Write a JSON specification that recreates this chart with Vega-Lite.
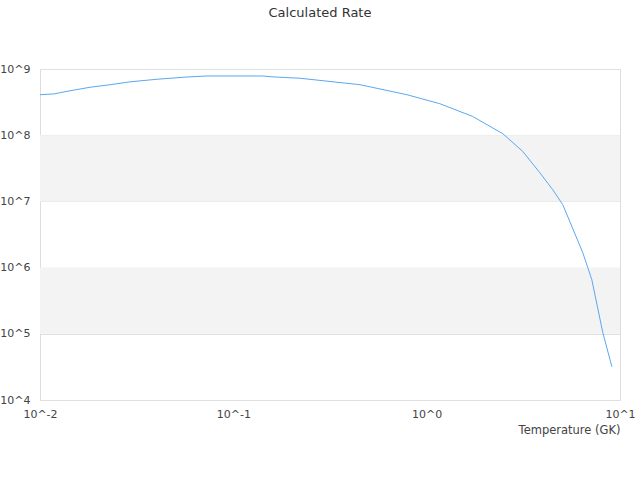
{
  "$schema": "https://vega.github.io/schema/vega-lite/v6.json",
  "width": 580,
  "height": 331,
  "autosize": "none",
  "padding": {"left": 40, "top": 69, "right": 20, "bottom": 80},
  "background": "white",
  "title": {
    "text": "Calculated Rate",
    "anchor": "middle",
    "dx": -10,
    "offset": 43,
    "font": "DejaVu Sans",
    "fontSize": 13,
    "fontWeight": "normal",
    "color": "#333"
  },
  "config": {
    "view": {"stroke": "#ddd", "strokeWidth": 1},
    "axis": {"labelFont": "DejaVu Sans", "titleFont": "DejaVu Sans", "labelColor": "#444", "titleColor": "#444"}
  },
  "datasets": {
    "bands": [
      {"lo": 100000, "hi": 1000000},
      {"lo": 10000000, "hi": 100000000}
    ],
    "rate": [
      {"T": 0.01, "R": 4.09e8},
      {"T": 0.0118, "R": 4.2e8},
      {"T": 0.0138, "R": 4.6e8},
      {"T": 0.01815, "R": 5.3e8},
      {"T": 0.023, "R": 5.78e8},
      {"T": 0.0292, "R": 6.4e8},
      {"T": 0.0403, "R": 7.0e8},
      {"T": 0.0575, "R": 7.57e8},
      {"T": 0.073, "R": 7.84e8},
      {"T": 0.142, "R": 7.84e8},
      {"T": 0.16, "R": 7.6e8},
      {"T": 0.221, "R": 7.25e8},
      {"T": 0.452, "R": 5.79e8},
      {"T": 0.791, "R": 4.09e8},
      {"T": 1.17, "R": 2.99e8},
      {"T": 1.73, "R": 1.92e8},
      {"T": 2.48, "R": 1.05e8},
      {"T": 3.14, "R": 5.69e7},
      {"T": 3.85, "R": 2.71e7},
      {"T": 4.49, "R": 1.5e7},
      {"T": 5.06, "R": 8.9e6},
      {"T": 6.42, "R": 1.68e6},
      {"T": 7.15, "R": 6.56e5},
      {"T": 8.15, "R": 1.04e5},
      {"T": 9.08, "R": 3.18e4}
    ]
  },
  "layer": [
    {
      "data": {"name": "bands"},
      "mark": {"type": "rect", "color": "#f3f3f3"},
      "encoding": {
        "y": {"field": "lo", "type": "quantitative", "scale": {"type": "log", "domain": [10000, 1000000000]}},
        "y2": {"field": "hi"}
      }
    },
    {
      "data": {"name": "rate"},
      "mark": {"type": "line", "color": "#5ba8f0", "strokeWidth": 1},
      "encoding": {
        "x": {
          "field": "T",
          "type": "quantitative",
          "scale": {"type": "log", "domain": [0.01, 10]},
          "axis": {
            "title": "Temperature (GK)",
            "titleAnchor": "end",
            "titleFontSize": 11.5,
            "titleFontWeight": "normal",
            "titlePadding": 5,
            "values": [0.01, 0.1, 1, 10],
            "labelExpr": "'10^' + round(log(datum.value) / LN10)",
            "labelFontSize": 11,
            "labelPadding": 8,
            "ticks": false,
            "domain": false,
            "grid": false,
            "labelFlush": false
          }
        },
        "y": {
          "field": "R",
          "type": "quantitative",
          "scale": {"type": "log", "domain": [10000, 1000000000]},
          "axis": {
            "title": null,
            "values": [10000, 100000, 1000000, 10000000, 100000000, 1000000000],
            "labelExpr": "'10^' + round(log(datum.value) / LN10)",
            "labelFontSize": 11,
            "labelPadding": 10,
            "ticks": false,
            "domain": false,
            "grid": true,
            "gridColor": "#e0e0e0",
            "labelFlush": false
          }
        }
      }
    }
  ]
}
